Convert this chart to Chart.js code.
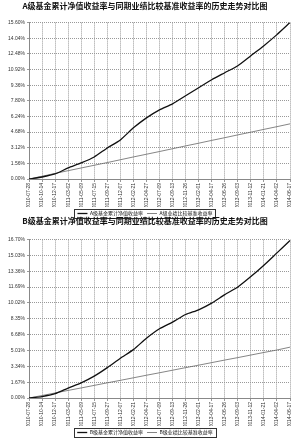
<!DOCTYPE html>
<html>
<head>
<meta charset="utf-8">
<script src="https://cdn.jsdelivr.net/npm/chart.js@4/dist/chart.umd.min.js"></script>
<style>
  html, body { margin: 0; padding: 0; background: #fff; overflow: hidden; }
  .page { position: relative; width: 300px; height: 438px; overflow: hidden; }
  .box { position: absolute; left: 0; width: 300px; }
</style>
</head>
<body>
<div class="page">
  <div class="box" style="top:0; height:226px"><canvas id="chartA"></canvas></div>
  <div class="box" style="top:215px; height:230px"><canvas id="chartB"></canvas></div>
</div>
<script>
// tick labels (dates)
var dates = ['2010-07-28', '2010-10-14', '2010-12-17', '2011-03-02', '2011-05-09', '2011-07-15',
  '2011-09-27', '2011-12-07', '2012-02-21', '2012-04-27', '2012-07-09', '2012-09-13',
  '2012-11-26', '2013-02-01', '2013-04-17', '2013-06-26', '2013-09-03', '2013-11-12',
  '2014-01-21', '2014-04-02', '2014-06-17'];

// A class
var fundA = [0, 0.2, 0.5, 1.1, 1.6, 2.2, 3.1, 3.9, 5.1, 6.1, 6.9, 7.5, 8.3, 9.1, 9.9, 10.6, 11.3, 12.3, 13.3, 14.4, 15.6];
var benchA = [0, 0.27, 0.56, 0.83, 1.1, 1.37, 1.64, 1.92, 2.2, 2.47, 2.74, 3.02, 3.3, 3.57, 3.85, 4.12, 4.4, 4.67, 4.95, 5.22, 5.5];
var stepA = 1.56;

// B class
var fundB = [0, 0.15, 0.45, 1.05, 1.6, 2.3, 3.2, 4.2, 5.1, 6.3, 7.3, 8.0, 8.8, 9.3, 10.0, 10.9, 11.7, 12.8, 14.0, 15.3, 16.6];
var benchB = [0, 0.26, 0.53, 0.8, 1.06, 1.33, 1.6, 1.86, 2.13, 2.4, 2.66, 2.93, 3.2, 3.46, 3.73, 4.0, 4.26, 4.53, 4.8, 5.06, 5.36];
var stepB = 1.67;

var numFont = "'Liberation Sans', Arial, sans-serif";
var cjkFont = "'Noto Sans CJK SC', sans-serif";

// draw a border round the legend items
var legendBox = {
  id: 'legendBox',
  afterDraw: function(chart) {
    var hb = chart.legend.legendHitBoxes;
    if (!hb || !hb.length) return;
    var l = Math.min.apply(null, hb.map(function(b) { return b.left; })) - 3;
    var r = Math.max.apply(null, hb.map(function(b) { return b.left + b.width; })) + 3;
    var t = hb[0].top - 2;
    var h = hb[0].height + 4;
    var c = chart.ctx;
    c.save();
    c.strokeStyle = '#333';
    c.lineWidth = 1;
    c.strokeRect(Math.round(l) + 0.5, Math.round(t) + 0.5, Math.round(r - l), Math.round(h));
    c.restore();
  }
};

function makeChart(id, title, names, fund, bench, step, titleGap) {
  var ctx = document.getElementById(id).getContext('2d');
  return new Chart(ctx, {
    type: 'line',
    data: {
      labels: dates,
      datasets: [{
        label: names[0],
        data: fund,
        borderColor: '#111',
        borderWidth: 1.3,
        pointRadius: 0,
        tension: 0.2
      }, {
        label: names[1],
        data: bench,
        borderColor: '#666',
        borderWidth: 0.8,
        pointRadius: 0
      }]
    },
    plugins: [legendBox],
    options: {
      responsive: true,
      maintainAspectRatio: false,
      animation: false,
      layout: { padding: { left: 0, right: 10, top: 1, bottom: 0 } },
      plugins: {
        title: {
          display: true,
          text: title,
          color: '#111',
          font: { family: cjkFont, size: 8, weight: 'bold' },
          padding: { top: 0, bottom: titleGap }
        },
        legend: {
          position: 'bottom',
          labels: {
            usePointStyle: true,
            pointStyle: 'line',
            pointStyleWidth: 10,
            boxHeight: 4,
            padding: 4,
            color: '#111',
            font: { family: cjkFont, size: 5 }
          }
        },
        tooltip: { enabled: false }
      },
      scales: {
        x: {
          grid: { color: '#999', tickLength: 3 },
          border: { color: '#888', dash: [1, 1] },
          ticks: {
            autoSkip: false,
            minRotation: 90,
            maxRotation: 90,
            padding: 1,
            color: '#333',
            font: { family: numFont, size: 5 }
          },
          afterFit: function(s) { s.height = 28; }
        },
        y: {
          min: 0,
          max: step * 10,
          grid: { color: '#999', tickLength: 2 },
          border: { color: '#888', dash: [1, 1] },
          ticks: {
            stepSize: step,
            padding: 2,
            color: '#333',
            font: { family: numFont, size: 5 },
            callback: function(v) { return v.toFixed(2) + '%'; }
          },
          afterFit: function(s) { s.width = 29; }
        }
      }
    }
  });
}

makeChart('chartA', 'A级基金累计净值收益率与同期业绩比较基准收益率的历史走势对比图',
  ['A级基金累计净值收益率', 'A级业绩比较基准收益率'], fundA, benchA, stepA, 12);
makeChart('chartB', 'B级基金累计净值收益率与同期业绩比较基准收益率的历史走势对比图',
  ['B级基金累计净值收益率', 'B级业绩比较基准收益率'], fundB, benchB, stepB, 14);
</script>
</body>
</html>
